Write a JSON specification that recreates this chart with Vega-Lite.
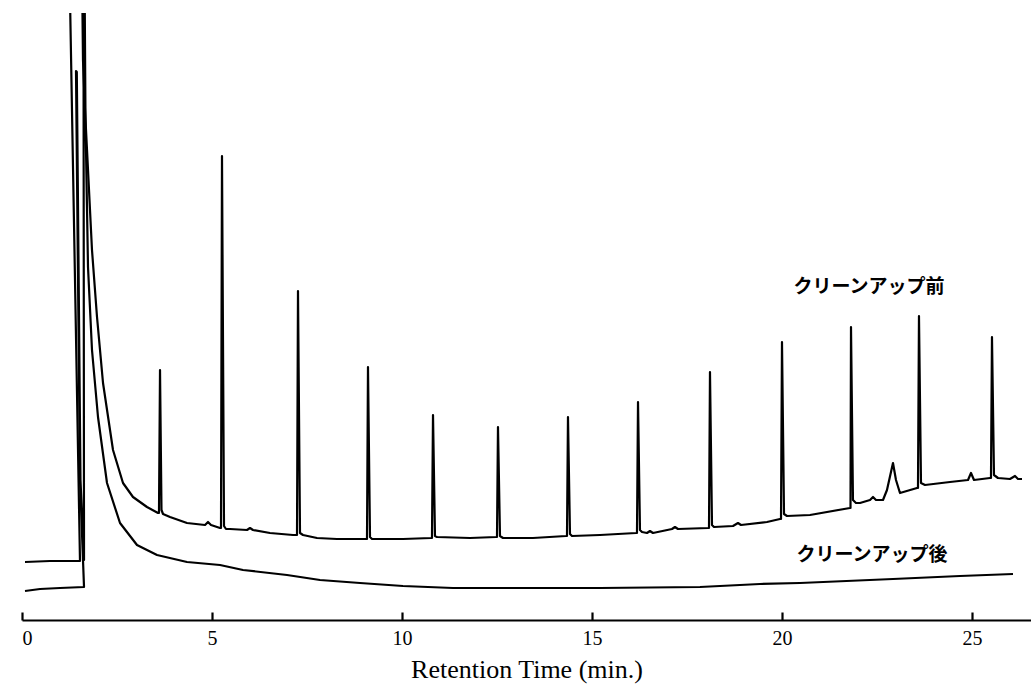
{
  "$schema": "https://vega.github.io/schema/vega-lite/v6.json",
  "width": 1009,
  "height": 607,
  "autosize": {"type": "none"},
  "padding": {"left": 22, "top": 13, "right": 0, "bottom": 71},
  "background": "white",
  "config": {"view": {"stroke": null}},
  "datasets": {
    "traces": [
      {"trace": "before", "i": 1, "t": 0.079, "signal": 58},
      {"trace": "before", "i": 2, "t": 0.737, "signal": 59},
      {"trace": "before", "i": 3, "t": 1.526, "signal": 59},
      {"trace": "before", "i": 4, "t": 1.25, "signal": 650},
      {"trace": "before", "i": 5, "t": 1.579, "signal": 650},
      {"trace": "before", "i": 6, "t": 1.605, "signal": 560},
      {"trace": "before", "i": 7, "t": 1.658, "signal": 510},
      {"trace": "before", "i": 8, "t": 1.711, "signal": 470},
      {"trace": "before", "i": 9, "t": 1.842, "signal": 370},
      {"trace": "before", "i": 10, "t": 1.974, "signal": 303},
      {"trace": "before", "i": 11, "t": 2.132, "signal": 237},
      {"trace": "before", "i": 12, "t": 2.395, "signal": 170},
      {"trace": "before", "i": 13, "t": 2.658, "signal": 137},
      {"trace": "before", "i": 14, "t": 2.921, "signal": 123},
      {"trace": "before", "i": 15, "t": 3.289, "signal": 113},
      {"trace": "before", "i": 16, "t": 3.579, "signal": 107},
      {"trace": "before", "i": 17, "t": 3.605, "signal": 107},
      {"trace": "before", "i": 18, "t": 3.632, "signal": 250},
      {"trace": "before", "i": 19, "t": 3.671, "signal": 110},
      {"trace": "before", "i": 20, "t": 3.711, "signal": 106},
      {"trace": "before", "i": 21, "t": 3.895, "signal": 103},
      {"trace": "before", "i": 22, "t": 4.342, "signal": 97},
      {"trace": "before", "i": 23, "t": 4.816, "signal": 95},
      {"trace": "before", "i": 24, "t": 4.895, "signal": 98},
      {"trace": "before", "i": 25, "t": 4.974, "signal": 95},
      {"trace": "before", "i": 26, "t": 5.211, "signal": 92},
      {"trace": "before", "i": 27, "t": 5.237, "signal": 92},
      {"trace": "before", "i": 28, "t": 5.263, "signal": 464},
      {"trace": "before", "i": 29, "t": 5.316, "signal": 94},
      {"trace": "before", "i": 30, "t": 5.368, "signal": 91},
      {"trace": "before", "i": 31, "t": 5.474, "signal": 91},
      {"trace": "before", "i": 32, "t": 5.921, "signal": 90},
      {"trace": "before", "i": 33, "t": 6.0, "signal": 92},
      {"trace": "before", "i": 34, "t": 6.079, "signal": 90},
      {"trace": "before", "i": 35, "t": 6.526, "signal": 87},
      {"trace": "before", "i": 36, "t": 7.132, "signal": 85},
      {"trace": "before", "i": 37, "t": 7.237, "signal": 85},
      {"trace": "before", "i": 38, "t": 7.263, "signal": 329},
      {"trace": "before", "i": 39, "t": 7.316, "signal": 87},
      {"trace": "before", "i": 40, "t": 7.395, "signal": 85},
      {"trace": "before", "i": 41, "t": 7.763, "signal": 82},
      {"trace": "before", "i": 42, "t": 8.289, "signal": 81},
      {"trace": "before", "i": 43, "t": 9.053, "signal": 81},
      {"trace": "before", "i": 44, "t": 9.079, "signal": 81},
      {"trace": "before", "i": 45, "t": 9.105, "signal": 253},
      {"trace": "before", "i": 46, "t": 9.158, "signal": 83},
      {"trace": "before", "i": 47, "t": 9.211, "signal": 81},
      {"trace": "before", "i": 48, "t": 10.026, "signal": 81},
      {"trace": "before", "i": 49, "t": 10.763, "signal": 82},
      {"trace": "before", "i": 50, "t": 10.789, "signal": 82},
      {"trace": "before", "i": 51, "t": 10.816, "signal": 205},
      {"trace": "before", "i": 52, "t": 10.868, "signal": 84},
      {"trace": "before", "i": 53, "t": 10.921, "signal": 83},
      {"trace": "before", "i": 54, "t": 11.789, "signal": 82},
      {"trace": "before", "i": 55, "t": 12.474, "signal": 83},
      {"trace": "before", "i": 56, "t": 12.5, "signal": 83},
      {"trace": "before", "i": 57, "t": 12.526, "signal": 193},
      {"trace": "before", "i": 58, "t": 12.579, "signal": 84},
      {"trace": "before", "i": 59, "t": 12.658, "signal": 82},
      {"trace": "before", "i": 60, "t": 13.447, "signal": 82},
      {"trace": "before", "i": 61, "t": 14.316, "signal": 84},
      {"trace": "before", "i": 62, "t": 14.342, "signal": 84},
      {"trace": "before", "i": 63, "t": 14.368, "signal": 203},
      {"trace": "before", "i": 64, "t": 14.421, "signal": 86},
      {"trace": "before", "i": 65, "t": 14.474, "signal": 84},
      {"trace": "before", "i": 66, "t": 15.211, "signal": 85},
      {"trace": "before", "i": 67, "t": 16.158, "signal": 87},
      {"trace": "before", "i": 68, "t": 16.184, "signal": 87},
      {"trace": "before", "i": 69, "t": 16.211, "signal": 218},
      {"trace": "before", "i": 70, "t": 16.263, "signal": 90},
      {"trace": "before", "i": 71, "t": 16.316, "signal": 88},
      {"trace": "before", "i": 72, "t": 16.447, "signal": 87},
      {"trace": "before", "i": 73, "t": 16.526, "signal": 89},
      {"trace": "before", "i": 74, "t": 16.605, "signal": 87},
      {"trace": "before", "i": 75, "t": 17.105, "signal": 91},
      {"trace": "before", "i": 76, "t": 17.184, "signal": 93},
      {"trace": "before", "i": 77, "t": 17.263, "signal": 91},
      {"trace": "before", "i": 78, "t": 18.053, "signal": 92},
      {"trace": "before", "i": 79, "t": 18.079, "signal": 92},
      {"trace": "before", "i": 80, "t": 18.105, "signal": 248},
      {"trace": "before", "i": 81, "t": 18.158, "signal": 95},
      {"trace": "before", "i": 82, "t": 18.211, "signal": 93},
      {"trace": "before", "i": 83, "t": 18.711, "signal": 94},
      {"trace": "before", "i": 84, "t": 18.842, "signal": 97},
      {"trace": "before", "i": 85, "t": 18.921, "signal": 95},
      {"trace": "before", "i": 86, "t": 19.605, "signal": 98},
      {"trace": "before", "i": 87, "t": 19.947, "signal": 101},
      {"trace": "before", "i": 88, "t": 19.974, "signal": 101},
      {"trace": "before", "i": 89, "t": 20.0, "signal": 278},
      {"trace": "before", "i": 90, "t": 20.053, "signal": 106},
      {"trace": "before", "i": 91, "t": 20.132, "signal": 104},
      {"trace": "before", "i": 92, "t": 20.737, "signal": 105},
      {"trace": "before", "i": 93, "t": 21.789, "signal": 112},
      {"trace": "before", "i": 94, "t": 21.803, "signal": 112},
      {"trace": "before", "i": 95, "t": 21.816, "signal": 293},
      {"trace": "before", "i": 96, "t": 21.868, "signal": 120},
      {"trace": "before", "i": 97, "t": 21.947, "signal": 117},
      {"trace": "before", "i": 98, "t": 22.053, "signal": 117},
      {"trace": "before", "i": 99, "t": 22.316, "signal": 120},
      {"trace": "before", "i": 100, "t": 22.395, "signal": 123},
      {"trace": "before", "i": 101, "t": 22.474, "signal": 120},
      {"trace": "before", "i": 102, "t": 22.658, "signal": 120},
      {"trace": "before", "i": 103, "t": 22.763, "signal": 130},
      {"trace": "before", "i": 104, "t": 22.921, "signal": 157},
      {"trace": "before", "i": 105, "t": 23.0, "signal": 140},
      {"trace": "before", "i": 106, "t": 23.105, "signal": 127},
      {"trace": "before", "i": 107, "t": 23.553, "signal": 132},
      {"trace": "before", "i": 108, "t": 23.579, "signal": 132},
      {"trace": "before", "i": 109, "t": 23.605, "signal": 304},
      {"trace": "before", "i": 110, "t": 23.658, "signal": 137},
      {"trace": "before", "i": 111, "t": 23.763, "signal": 135},
      {"trace": "before", "i": 112, "t": 24.421, "signal": 138},
      {"trace": "before", "i": 113, "t": 24.895, "signal": 140},
      {"trace": "before", "i": 114, "t": 24.974, "signal": 147},
      {"trace": "before", "i": 115, "t": 25.053, "signal": 140},
      {"trace": "before", "i": 116, "t": 25.474, "signal": 142},
      {"trace": "before", "i": 117, "t": 25.5, "signal": 142},
      {"trace": "before", "i": 118, "t": 25.526, "signal": 283},
      {"trace": "before", "i": 119, "t": 25.579, "signal": 145},
      {"trace": "before", "i": 120, "t": 25.684, "signal": 142},
      {"trace": "before", "i": 121, "t": 26.0, "signal": 141},
      {"trace": "before", "i": 122, "t": 26.132, "signal": 144},
      {"trace": "before", "i": 123, "t": 26.211, "signal": 141},
      {"trace": "before", "i": 124, "t": 26.316, "signal": 141},
      {"trace": "after", "i": 1, "t": 0.079, "signal": 29},
      {"trace": "after", "i": 2, "t": 0.474, "signal": 31},
      {"trace": "after", "i": 3, "t": 1.0, "signal": 32},
      {"trace": "after", "i": 4, "t": 1.632, "signal": 33},
      {"trace": "after", "i": 5, "t": 1.526, "signal": 140},
      {"trace": "after", "i": 6, "t": 1.421, "signal": 549},
      {"trace": "after", "i": 7, "t": 1.442, "signal": 548},
      {"trace": "after", "i": 8, "t": 1.539, "signal": 140},
      {"trace": "after", "i": 9, "t": 1.632, "signal": 60},
      {"trace": "after", "i": 10, "t": 1.618, "signal": 650},
      {"trace": "after", "i": 11, "t": 1.645, "signal": 650},
      {"trace": "after", "i": 12, "t": 1.671, "signal": 500},
      {"trace": "after", "i": 13, "t": 1.737, "signal": 353},
      {"trace": "after", "i": 14, "t": 1.842, "signal": 270},
      {"trace": "after", "i": 15, "t": 2.0, "signal": 203},
      {"trace": "after", "i": 16, "t": 2.237, "signal": 137},
      {"trace": "after", "i": 17, "t": 2.579, "signal": 97},
      {"trace": "after", "i": 18, "t": 3.026, "signal": 75},
      {"trace": "after", "i": 19, "t": 3.289, "signal": 70},
      {"trace": "after", "i": 20, "t": 3.553, "signal": 65},
      {"trace": "after", "i": 21, "t": 4.342, "signal": 58},
      {"trace": "after", "i": 22, "t": 5.211, "signal": 55},
      {"trace": "after", "i": 23, "t": 5.816, "signal": 50},
      {"trace": "after", "i": 24, "t": 6.974, "signal": 45},
      {"trace": "after", "i": 25, "t": 7.842, "signal": 40},
      {"trace": "after", "i": 26, "t": 8.895, "signal": 37},
      {"trace": "after", "i": 27, "t": 10.026, "signal": 34},
      {"trace": "after", "i": 28, "t": 11.342, "signal": 32},
      {"trace": "after", "i": 29, "t": 13.105, "signal": 32},
      {"trace": "after", "i": 30, "t": 15.211, "signal": 32},
      {"trace": "after", "i": 31, "t": 17.842, "signal": 33},
      {"trace": "after", "i": 32, "t": 19.421, "signal": 36},
      {"trace": "after", "i": 33, "t": 20.474, "signal": 37},
      {"trace": "after", "i": 34, "t": 22.921, "signal": 41},
      {"trace": "after", "i": 35, "t": 24.684, "signal": 44},
      {"trace": "after", "i": 36, "t": 26.079, "signal": 46}
    ],
    "labels": [
      {"t": 22.29, "signal": 333, "label": "クリーンアップ前"},
      {"t": 22.37, "signal": 65, "label": "クリーンアップ後"}
    ]
  },
  "layer": [
    {
      "data": {"name": "traces"},
      "mark": {"type": "line", "color": "black", "strokeWidth": 2.2, "clip": true, "strokeJoin": "round", "interpolate": "linear"},
      "encoding": {
        "x": {
          "field": "t", "type": "quantitative",
          "scale": {"domain": [0, 26.553], "nice": false, "zero": false},
          "axis": {
            "values": [0, 5, 10, 15, 20, 25],
            "format": "d",
            "title": "Retention Time (min.)",
            "grid": false,
            "domainColor": "black", "domainWidth": 2.2,
            "tickColor": "black", "tickWidth": 2.2, "tickSize": -8,
            "labelFont": "Liberation Serif", "labelFontSize": 20, "labelColor": "black",
            "labelPadding": 16,
            "titleFont": "Liberation Serif", "titleFontSize": 26, "titleFontWeight": "normal",
            "titleColor": "black", "titlePadding": 8
          }
        },
        "y": {"field": "signal", "type": "quantitative", "scale": {"domain": [0, 607]}, "axis": null},
        "detail": {"field": "trace"},
        "order": {"field": "i", "type": "quantitative"}
      }
    },
    {
      "data": {"name": "labels"},
      "mark": {"type": "text", "font": "Noto Sans CJK JP", "fontSize": 19, "fontWeight": "bold", "color": "black"},
      "encoding": {
        "x": {"field": "t", "type": "quantitative", "scale": {"domain": [0, 26.553], "nice": false, "zero": false}},
        "y": {"field": "signal", "type": "quantitative", "scale": {"domain": [0, 607]}},
        "text": {"field": "label"}
      }
    }
  ]
}
